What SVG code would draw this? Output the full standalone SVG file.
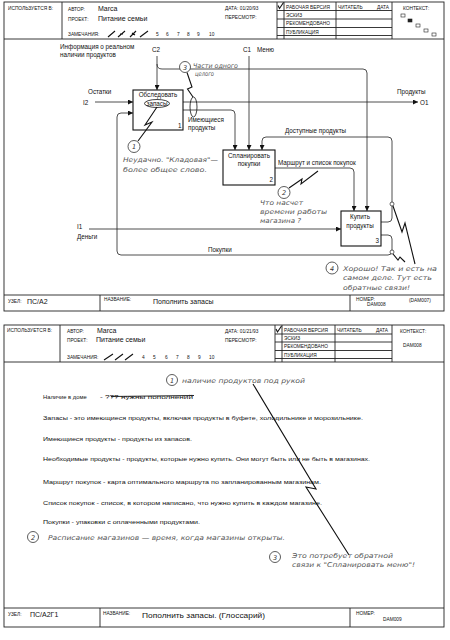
<svg xmlns="http://www.w3.org/2000/svg" width="450" height="640" viewBox="0 0 450 640">
<defs>
<marker id="ar" viewBox="0 0 6 6" refX="6" refY="3" markerWidth="5" markerHeight="5" orient="auto" markerUnits="userSpaceOnUse">
<path d="M0,0 L6,3 L0,6 Z" fill="#111"/>
</marker>
<style>
.fr{fill:none;stroke:#222;stroke-width:0.9}
.ln{fill:none;stroke:#222;stroke-width:0.8}
.cn{fill:none;stroke:#222;stroke-width:0.8;marker-end:url(#ar)}
.sq{fill:none;stroke:#111;stroke-width:1.1}
.bx{fill:#fff;stroke:#111;stroke-width:1.1}
.h{font-family:"Liberation Sans",Arial,sans-serif;font-size:4.8px;fill:#111}
.v{font-family:"Liberation Sans",Arial,sans-serif;font-size:7px;fill:#111}
.l{font-family:"Liberation Sans",Arial,sans-serif;font-size:6.3px;fill:#111}
.n{font-family:"DejaVu Sans",sans-serif;font-style:italic;font-size:6.6px;fill:#555}
.g{font-family:"Liberation Sans",Arial,sans-serif;font-size:5.8px;fill:#111}
.c{fill:#fff;stroke:#333;stroke-width:0.8}
.cd{font-family:"DejaVu Sans",sans-serif;font-style:italic;font-size:6.5px;fill:#333;text-anchor:middle}
</style>
</defs>
<rect width="450" height="640" fill="#fff"/>

<!-- ===== TOP FORM ===== -->
<g id="form1">
<rect class="fr" x="4" y="2" width="440" height="309"/>
<line class="fr" x1="4" y1="39" x2="444" y2="39"/>
<line class="fr" x1="62" y1="2" x2="62" y2="39"/>
<line class="fr" x1="277" y1="2" x2="277" y2="39"/>
<line class="fr" x1="284" y1="2" x2="284" y2="39"/>
<line class="fr" x1="336" y1="2" x2="336" y2="39"/>
<line class="fr" x1="392" y1="2" x2="392" y2="39"/>
<line class="fr" x1="277" y1="10.5" x2="392" y2="10.5"/>
<line class="fr" x1="277" y1="19" x2="392" y2="19"/>
<line class="fr" x1="277" y1="27.5" x2="392" y2="27.5"/>
<line class="fr" x1="277" y1="35.5" x2="392" y2="35.5"/>
<text class="h" x="8" y="10">ИСПОЛЬЗУЕТСЯ В:</text>
<text class="h" x="68" y="11">АВТОР:</text>
<text class="v" x="98" y="11">Marca</text>
<text class="h" x="68" y="21">ПРОЕКТ:</text>
<text class="v" x="98" y="21">Питание семьи</text>
<text class="h" x="68" y="35.5">ЗАМЕЧАНИЯ:</text>
<path class="sq" d="M108,37 L115,31 M118,37 L125,31 M120,34 L123,34 M130,37 L136,31 M132,33 L135,35 M140,37 L148,31"/>
<text class="h" x="156" y="35.5" font-size="5.5">5</text>
<text class="h" x="166" y="35.5" font-size="5.5">6</text>
<text class="h" x="177" y="35.5" font-size="5.5">7</text>
<text class="h" x="187" y="35.5" font-size="5.5">8</text>
<text class="h" x="197" y="35.5" font-size="5.5">9</text>
<text class="h" x="209" y="35.5" font-size="5.5">10</text>
<text class="h" x="225" y="10" font-size="5.6">ДАТА: 01/20/93</text>
<text class="h" x="225" y="19">ПЕРЕСМОТР:</text>
<path class="sq" d="M278,5.5 L279.5,8.5 L283.5,2.5"/>
<text class="h" x="286" y="8.5">РАБОЧАЯ ВЕРСИЯ</text>
<text class="h" x="286" y="17">ЭСКИЗ</text>
<text class="h" x="286" y="25.2">РЕКОМЕНДОВАНО</text>
<text class="h" x="286" y="33.5">ПУБЛИКАЦИЯ</text>
<text class="h" x="338" y="8.5">ЧИТАТЕЛЬ</text>
<text class="h" x="377" y="8.5">ДАТА</text>
<text class="h" x="403" y="10">КОНТЕКСТ:</text>
<rect x="401" y="14" width="4" height="3" fill="#fff" stroke="#222" stroke-width="0.6"/>
<rect x="408" y="19" width="4" height="3" fill="#222" stroke="#222" stroke-width="0.6"/>
<rect x="416" y="24" width="4" height="3" fill="#fff" stroke="#222" stroke-width="0.6"/>
<rect x="424" y="29" width="4" height="3" fill="#fff" stroke="#222" stroke-width="0.6"/>
<rect x="432" y="33" width="4" height="3" fill="#fff" stroke="#222" stroke-width="0.6"/>
<line class="fr" x1="4" y1="295" x2="444" y2="295"/>
<line class="fr" x1="100" y1="295" x2="100" y2="311"/>
<line class="fr" x1="350" y1="295" x2="350" y2="311"/>
<text class="h" x="8" y="303">УЗЕЛ:</text>
<text class="v" x="27" y="304" font-size="8">ПС/А2</text>
<text class="h" x="104" y="300.5">НАЗВАНИЕ:</text>
<text class="v" x="153" y="304">Пополнить запасы</text>
<text class="h" x="356" y="300.5">НОМЕР:</text>
<text class="h" x="367" y="306" font-size="5.3">DAM008</text>
<text class="h" x="409" y="302" font-size="6">(DAM007)</text>
</g>

<!-- connectors -->
<g id="connectors">
<path class="cn" d="M95,102 L133,102"/>
<path class="cn" d="M157,56 L157,90"/>
<path class="cn" d="M157,64 Q157,69 162,69 L363,69 Q367,69 367,73 L367,211"/>
<path class="cn" d="M183,102 L418,102"/>
<path class="cn" d="M183,110 L231,110 Q235,110 235,114 L235,150"/>
<path class="cn" d="M249,56 L249,150"/>
<path class="cn" d="M381,222 L388,222 Q392,222 392,218 L392,141 Q392,137 388,137 L266,137 Q262,137 262,141 L262,150"/>
<path class="cn" d="M275,168 L350,168 Q354,168 354,172 L354,211"/>
<path class="cn" d="M89,229 L341,229"/>
<path class="cn" d="M381,235 L388,235 Q392,235 392,239 L392,251 Q392,255 388,255 L121,255 Q117,255 117,251 L117,117 Q117,113 121,113 L133,113"/>
<circle cx="392" cy="204" r="2" fill="#fff" stroke="#222" stroke-width="0.7"/>
<circle cx="392" cy="252" r="2" fill="#fff" stroke="#222" stroke-width="0.7"/>
</g>

<!-- nodes -->
<g id="box1">
<rect class="bx" x="133" y="90" width="50" height="40"/>
<text class="l" x="158" y="97" text-anchor="middle">Обследовать</text>
<ellipse cx="157" cy="103.5" rx="12.5" ry="4" fill="none" stroke="#111" stroke-width="0.8"/>
<text class="l" x="157" y="105.5" text-anchor="middle" font-size="5.8">запасы</text>
<text class="l" x="178" y="127.5">1</text>
</g>
<g id="box2">
<rect class="bx" x="223" y="150" width="52" height="35"/>
<text class="l" x="249" y="158" text-anchor="middle">Спланировать</text>
<text class="l" x="249" y="166" text-anchor="middle">покупки</text>
<text class="l" x="269.5" y="182">2</text>
</g>
<g id="box3">
<rect class="bx" x="341" y="211" width="40" height="35"/>
<text class="l" x="360" y="219" text-anchor="middle">Купить</text>
<text class="l" x="360" y="227.5" text-anchor="middle">продукты</text>
<text class="l" x="375.5" y="243">3</text>
</g>

<g id="labels">
<text class="l" x="60" y="48.5">Информация о реальном</text>
<text class="l" x="60" y="57">наличии продуктов</text>
<text class="l" x="152" y="52">C2</text>
<text class="l" x="243" y="52">C1</text>
<text class="l" x="257" y="52">Меню</text>
<text class="l" x="88" y="94">Остатки</text>
<text class="l" x="83" y="104.5">I2</text>
<text class="l" x="397" y="94">Продукты</text>
<text class="l" x="420" y="104.5" font-size="7">O1</text>
<text class="l" x="188" y="122">Имеющиеся</text>
<text class="l" x="188" y="130">продукты</text>
<text class="l" x="285" y="133">Доступные продукты</text>
<text class="l" x="278" y="165">Маршрут и список покупок</text>
<text class="l" x="77" y="229">I1</text>
<text class="l" x="77" y="239">Деньги</text>
<text class="l" x="208" y="252">Покупки</text>
</g>

<g id="notes1">
<path class="sq" d="M157,107 L145,125 L152,122 L138,141"/>
<circle class="c" cx="134" cy="146.5" r="6"/>
<text class="cd" x="134" y="149">1</text>
<text class="n" x="123" y="162" textLength="95" lengthAdjust="spacingAndGlyphs">Неудачно. "Кладовая"—</text>
<text class="n" x="123" y="172" textLength="84" lengthAdjust="spacingAndGlyphs">более общее слово.</text>
<ellipse cx="193.5" cy="107" rx="3.5" ry="10" fill="none" stroke="#111" stroke-width="0.8"/>
<path class="sq" d="M187,72.5 L192,87 L187.5,89 L193,97"/>
<circle class="c" cx="185" cy="67" r="5.5"/>
<text class="cd" x="185" y="69.5">3</text>
<text class="n" x="193" y="68" textLength="45" lengthAdjust="spacingAndGlyphs">Части одного</text>
<text class="n" x="195" y="76" textLength="19" lengthAdjust="spacingAndGlyphs">целого</text>
<path class="sq" d="M289,188 L302,179 L301,184 L318,171"/>
<circle class="c" cx="284" cy="192.5" r="6"/>
<text class="cd" x="284" y="195">2</text>
<text class="n" x="260" y="205" textLength="43" lengthAdjust="spacingAndGlyphs">Что насчет</text>
<text class="n" x="260" y="214" textLength="67" lengthAdjust="spacingAndGlyphs">времени работы</text>
<text class="n" x="260" y="223" textLength="41" lengthAdjust="spacingAndGlyphs">магазина ?</text>
<path class="sq" d="M393,206 L402,232 L405,223 L415,264"/>
<path class="sq" d="M393,254 L398,260 L400,257 L405,262"/>
<circle class="c" cx="332" cy="268" r="6"/>
<text class="cd" x="332" y="270.5">4</text>
<text class="n" x="343" y="270.5" textLength="94" lengthAdjust="spacingAndGlyphs">Хорошо! Так и есть на</text>
<text class="n" x="343" y="280" textLength="89" lengthAdjust="spacingAndGlyphs">самом деле. Тут есть</text>
<text class="n" x="343" y="289.5" textLength="67" lengthAdjust="spacingAndGlyphs">обратные связи!</text>
</g>

<!-- ===== BOTTOM FORM (Glossary) ===== -->
<g id="form2">
<rect class="fr" x="4" y="325" width="440" height="302"/>
<line class="fr" x1="4" y1="362" x2="444" y2="362"/>
<line class="fr" x1="60" y1="325" x2="60" y2="362"/>
<line class="fr" x1="275" y1="325" x2="275" y2="362"/>
<line class="fr" x1="282" y1="325" x2="282" y2="362"/>
<line class="fr" x1="335" y1="325" x2="335" y2="362"/>
<line class="fr" x1="392" y1="325" x2="392" y2="362"/>
<line class="fr" x1="275" y1="334" x2="392" y2="334"/>
<line class="fr" x1="275" y1="342" x2="392" y2="342"/>
<line class="fr" x1="275" y1="350.5" x2="392" y2="350.5"/>
<line class="fr" x1="275" y1="358.5" x2="392" y2="358.5"/>
<text class="h" x="7" y="331.5">ИСПОЛЬЗУЕТСЯ В:</text>
<text class="h" x="67" y="333">АВТОР:</text>
<text class="v" x="97" y="333">Marca</text>
<text class="h" x="67" y="341.5">ПРОЕКТ:</text>
<text class="v" x="96" y="341.5">Питание семьи</text>
<text class="h" x="67" y="359">ЗАМЕЧАНИЯ:</text>
<path class="sq" stroke-width="1.5" d="M104,360 L113,354 M115,360 L123,354 M125,360 L133,354"/>
<text class="h" x="142" y="359" font-size="5.3">4</text>
<text class="h" x="153" y="359" font-size="5.3">5</text>
<text class="h" x="165" y="359" font-size="5.3">6</text>
<text class="h" x="176" y="359" font-size="5.3">7</text>
<text class="h" x="187" y="359" font-size="5.3">8</text>
<text class="h" x="198" y="359" font-size="5.3">9</text>
<text class="h" x="209" y="359" font-size="5.3">10</text>
<text class="h" x="225" y="333" font-size="5.6">ДАТА: 01/21/93</text>
<text class="h" x="225" y="341.5">ПЕРЕСМОТР:</text>
<path class="sq" d="M276,329 L277.5,332 L281.5,326"/>
<text class="h" x="284" y="332">РАБОЧАЯ ВЕРСИЯ</text>
<text class="h" x="284" y="340">ЭСКИЗ</text>
<text class="h" x="284" y="348">РЕКОМЕНДОВАНО</text>
<text class="h" x="284" y="356.5">ПУБЛИКАЦИЯ</text>
<text class="h" x="337" y="332">ЧИТАТЕЛЬ</text>
<text class="h" x="376" y="332">ДАТА</text>
<text class="h" x="400" y="332.5">КОНТЕКСТ:</text>
<text class="h" x="403" y="347" font-size="5.3">DAM008</text>
<line class="fr" x1="4" y1="608" x2="444" y2="608"/>
<line class="fr" x1="100" y1="608" x2="100" y2="627"/>
<line class="fr" x1="350" y1="608" x2="350" y2="627"/>
<text class="h" x="8" y="616">УЗЕЛ:</text>
<text class="v" x="30" y="617" font-size="8">ПС/А2Г1</text>
<text class="h" x="103" y="614.5">НАЗВАНИЕ:</text>
<text class="v" x="142" y="618" textLength="123" lengthAdjust="spacingAndGlyphs">Пополнить запасы. (Глоссарий)</text>
<text class="h" x="356" y="614.5">НОМЕР:</text>
<text class="h" x="383" y="621" font-size="5.3">DAM009</text>
</g>

<g id="glossary">
<text class="g" x="43" y="399">Наличие в доме</text>
<text class="g" x="100" y="399" textLength="93" lengthAdjust="spacingAndGlyphs">- ??? нужны пополнений</text>
<line x1="111" y1="396.5" x2="194" y2="395.5" stroke="#111" stroke-width="0.9"/>
<text class="g" x="43" y="420" textLength="320" lengthAdjust="spacingAndGlyphs">Запасы - это имеющиеся продукты, включая продукты в буфете, холодильнике и морозильнике.</text>
<text class="g" x="43" y="441" textLength="149" lengthAdjust="spacingAndGlyphs">Имеющиеся продукты - продукты из запасов.</text>
<text class="g" x="43" y="461" textLength="327" lengthAdjust="spacingAndGlyphs">Необходимые продукты - продукты, которые нужно купить. Они могут быть или не быть в магазинах.</text>
<text class="g" x="43" y="484" textLength="278" lengthAdjust="spacingAndGlyphs">Маршрут покупок - карта оптимального маршрута по запланированным магазинам.</text>
<text class="g" x="43" y="505" textLength="279" lengthAdjust="spacingAndGlyphs">Список покупок - список, в котором написано, что нужно купить в каждом магазине.</text>
<text class="g" x="43" y="524" textLength="157" lengthAdjust="spacingAndGlyphs">Покупки - упаковки с оплаченными продуктами.</text>
<path class="sq" d="M253,384 L316,489 L306,487 L349,555"/>
<circle class="c" cx="172" cy="380" r="5.5"/>
<text class="cd" x="172" y="382.5">1</text>
<text class="n" x="182" y="383" textLength="123" lengthAdjust="spacingAndGlyphs">наличие продуктов под рукой</text>
<circle class="c" cx="33" cy="537" r="5.5"/>
<text class="cd" x="33" y="539.5">2</text>
<text class="n" x="48" y="540" textLength="237" lengthAdjust="spacingAndGlyphs">Расписание магазинов — время, когда магазины открыты.</text>
<circle class="c" cx="275" cy="557" r="5.5"/>
<text class="cd" x="275" y="559.5">3</text>
<text class="n" x="292" y="558" textLength="101" lengthAdjust="spacingAndGlyphs">Это потребует обратной</text>
<text class="n" x="292" y="567" textLength="123" lengthAdjust="spacingAndGlyphs">связи к "Спланировать меню"!</text>
</g>
</svg>
